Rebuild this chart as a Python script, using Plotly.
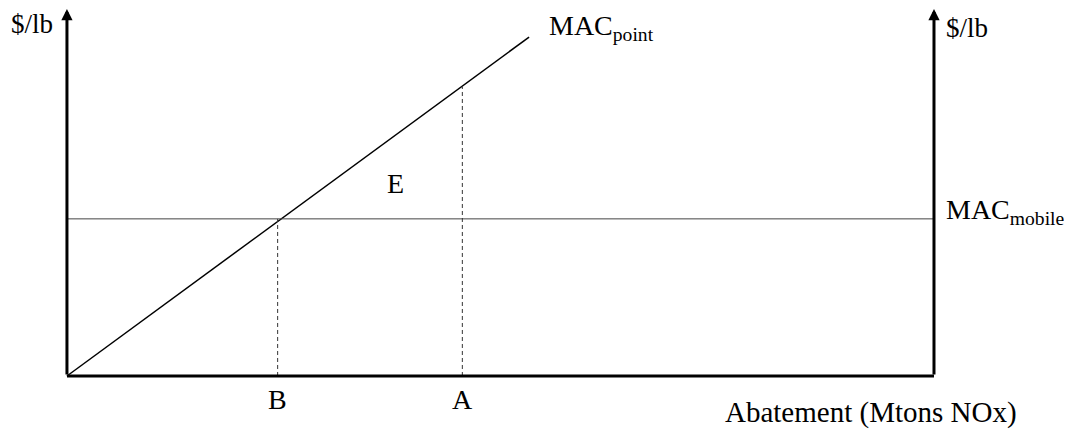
import plotly.graph_objects as go

# Diagram values (arbitrary units on both axes)
x_max = 10.0            # right-hand $/lb axis
y_max = 9.97            # top of the vertical axes
mac_point_x = [0.0, 5.33]
mac_point_y = [0.0, 9.21]
mac_mobile_y = 4.27
abatement_labels = ["B", "A"]
abatement_x = [2.43, 4.56]

slope = mac_point_y[1] / mac_point_x[1]
FONT = "Liberation Serif, Times New Roman, serif"

fig = go.Figure()

# MAC point line
fig.add_trace(go.Scatter(
    x=mac_point_x, y=mac_point_y, mode="lines",
    line=dict(color="black", width=1.5), showlegend=False, hoverinfo="skip"
))

# MAC mobile line
fig.add_trace(go.Scatter(
    x=[0, x_max], y=[mac_mobile_y, mac_mobile_y], mode="lines",
    line=dict(color="#444444", width=1), showlegend=False, hoverinfo="skip"
))

# dashed drop lines for B and A
for lab, xv in zip(abatement_labels, abatement_x):
    top = mac_mobile_y if lab == "B" else slope * xv
    fig.add_trace(go.Scatter(
        x=[xv, xv], y=[0, top], mode="lines",
        line=dict(color="#333333", width=1, dash="4px,3px"),
        showlegend=False, hoverinfo="skip"
    ))

# bottom axis
fig.add_trace(go.Scatter(
    x=[0, x_max], y=[0, 0], mode="lines",
    line=dict(color="black", width=3), showlegend=False, hoverinfo="skip"
))

annotations = []
# vertical axes with arrowheads
for xv in [0, x_max]:
    annotations.append(dict(
        x=xv, y=y_max, ax=xv, ay=0, xref="x", yref="y", axref="x", ayref="y",
        text="", showarrow=True, arrowhead=2, arrowsize=0.75, arrowwidth=3,
        arrowcolor="black"
    ))

txt = dict(showarrow=False, xref="x", yref="y", borderpad=0,
           xanchor="center", yanchor="middle")


def f(size):
    return dict(family=FONT, size=size, color="black")


annotations += [
    dict(x=-0.4, y=9.57, text="$/lb", font=f(27), **txt),
    dict(x=10.38, y=9.45, text="$/lb", font=f(27), **txt),
    dict(x=6.16, y=9.46, text="MAC<sub>point</sub>", font=f(28), **txt),
    dict(x=10.83, y=4.48, text="MAC<sub>mobile</sub>", font=f(28), **txt),
    dict(x=3.79, y=5.22, text="E", font=f(28), **txt),
    dict(x=9.27, y=-1.0, text="Abatement (Mtons NOx)", font=f(29), **txt),
]
for lab, xv in zip(abatement_labels, abatement_x):
    annotations.append(dict(x=xv, y=-0.63, text=lab, font=f(28), **txt))

fig.update_layout(
    width=1072, height=430,
    margin=dict(l=0, r=0, t=0, b=0),
    plot_bgcolor="white", paper_bgcolor="white",
    xaxis=dict(range=[-0.68, 11.684], visible=False),
    yaxis=dict(range=[-1.685, 10.0], visible=False),
    annotations=annotations,
    showlegend=False
)

fig.write_html("out.html", config={"displayModeBar": False})
